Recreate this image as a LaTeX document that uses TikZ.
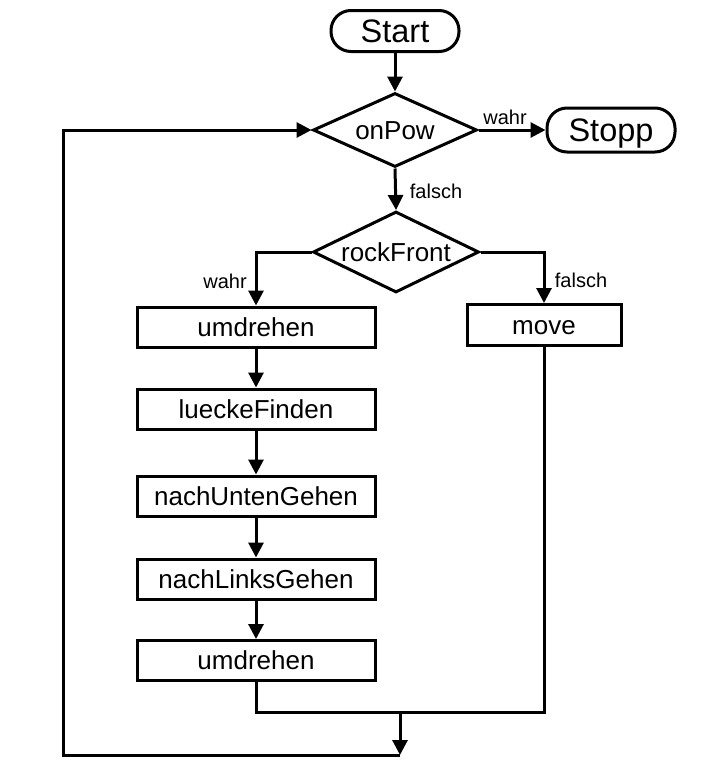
\documentclass[tikz,border=0pt]{standalone}
\usepackage{fontspec}
\setmainfont{Liberation Sans}
\usetikzlibrary{shapes.geometric,arrows.meta}
\begin{document}
\begin{tikzpicture}[x=1pt,y=-1pt,
  every path/.style={line width=3pt},
  term/.style={draw,rectangle,text height=23.4pt,text depth=0pt,rounded corners=20pt,minimum width=128pt,inner sep=0pt,font=\fontsize{32.5}{34}\selectfont},
  dec/.style={draw,diamond,text height=18.7pt,text depth=0pt,inner sep=0pt,font=\fontsize{26}{28}\selectfont},
  proc/.style={draw,rectangle,text height=18.7pt,text depth=0pt,inner sep=0pt,minimum height=40pt,font=\fontsize{26}{28}\selectfont},
  lbl/.style={font=\fontsize{20}{22}\selectfont,inner sep=0pt},
  arr/.style={-{Triangle[length=15pt,width=15pt]},line width=3pt}]
\useasboundingbox (0,0) rectangle (713,763);
\node[term,minimum height=41pt] (start) at (395,31) {Start};
\node[dec,aspect=2.2,minimum width=164pt,minimum height=74pt] (onpow) at (395,130) {onPow};
\node[term,minimum height=44pt] (stopp) at (611,130) {Stopp};
\node[dec,aspect=2.05,minimum width=166pt,minimum height=81pt] (rock) at (396,252) {rockFront};
\node[proc,minimum width=238pt] (umd1) at (256,327) {umdrehen};
\node[proc,minimum width=154pt,minimum height=41pt] (move) at (544,325) {move};
\node[proc,minimum width=238pt] (lf) at (256,409) {lueckeFinden};
\node[proc,minimum width=238pt] (nug) at (256,496) {nachUntenGehen};
\node[proc,minimum width=238pt] (nlg) at (256,579) {nachLinksGehen};
\node[proc,minimum width=238pt] (umd2) at (256,660.5) {umdrehen};
\coordinate (j1) at (400,712);
\coordinate (j2) at (400,755);
\coordinate (c) at (63,755);
\draw[arr] (start.south) -- (onpow.north);
\draw[arr] (onpow.east) -- (stopp.west);
\node[lbl] (l1) at (505,117) {wahr};
\draw[arr] (onpow.south) -- (rock.north);
\node[lbl] (l2) at (436,191) {falsch};
\draw[arr] (rock.west) -| (umd1.north);
\node[lbl] (l3) at (225,281) {wahr};
\draw[arr] (rock.east) -| (move.north);
\node[lbl] (l4) at (581,280) {falsch};
\draw[arr] (umd1) -- (lf);
\draw[arr] (lf) -- (nug);
\draw[arr] (nug) -- (nlg);
\draw[arr] (nlg) -- (umd2);
\draw (umd2.south) |- (j1) -| (move.south);
\draw[arr] (j1) -- (j2);
\draw[arr] (j2) -- (c) |- (onpow.west);
\end{tikzpicture}
\end{document}
